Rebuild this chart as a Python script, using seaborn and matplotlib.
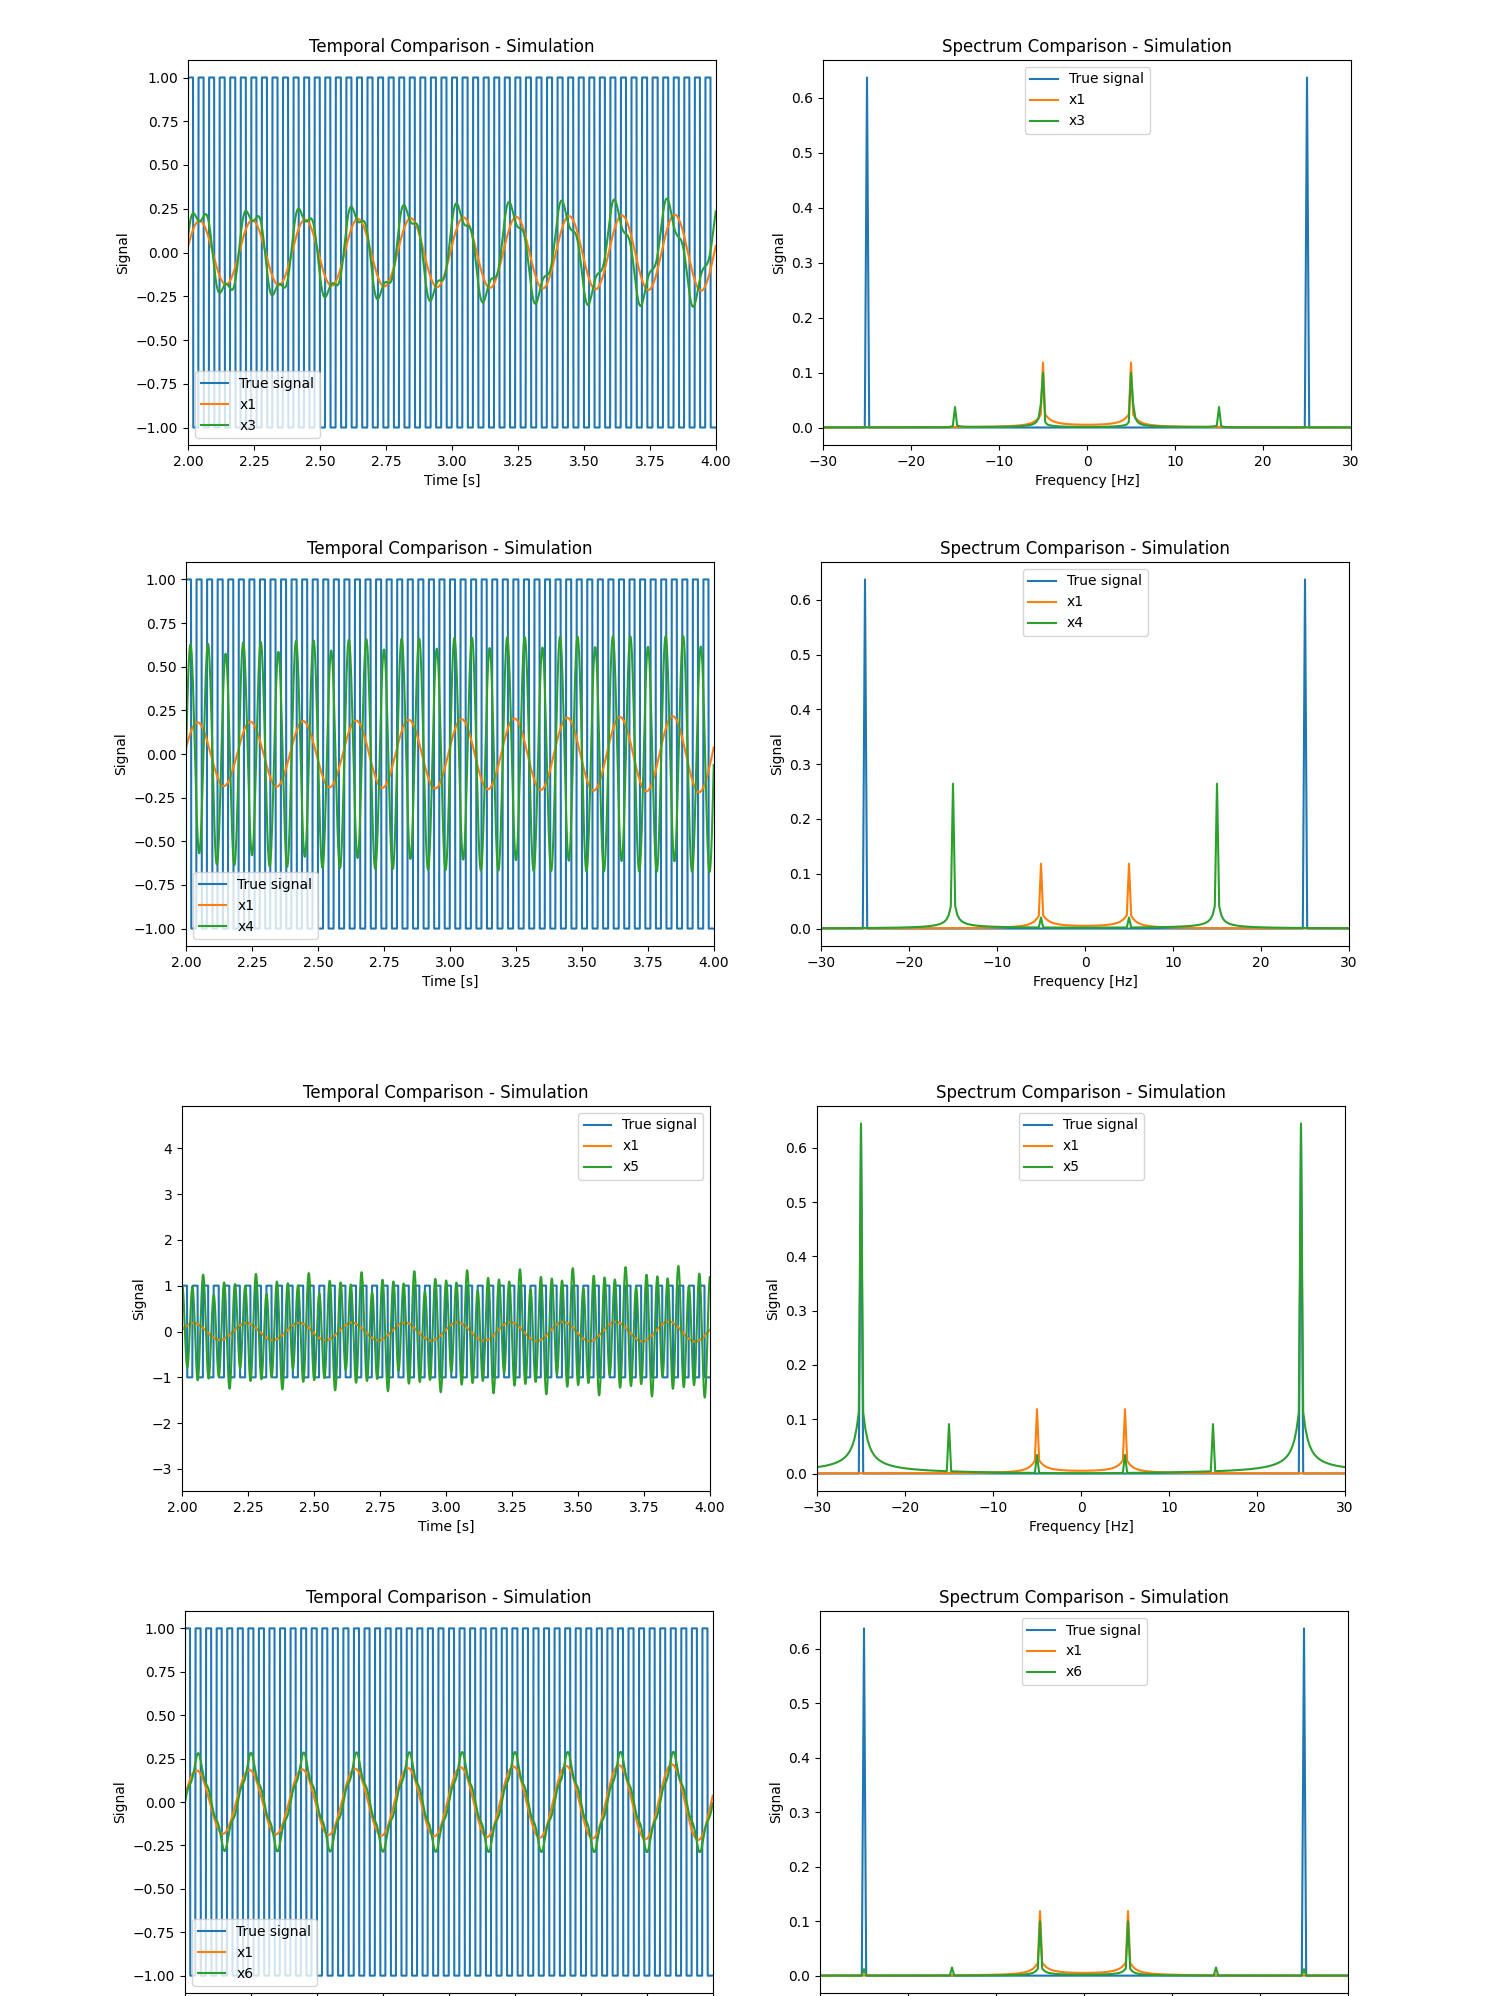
import numpy as np
import matplotlib
matplotlib.use("Agg")
import matplotlib.pyplot as plt
import seaborn as sns

# sampling of the simulation
fs = 1000.0
duration = 4.0
true_freq = 25.0
true_amp = 1.0

# signal components:
# frequency [Hz], amplitude, phase [rad], growth [1/s], start transient (relative), transient tau [s]
x1_freq = [5.0]
x1_amp = [0.18]
x1_phase = [0.2]
x1_growth = [0.1]
x1_trans = [4.8]
x1_tau = [0.3]

x3_freq = [5.06, 15.0]
x3_amp = [0.255, 0.065]
x3_phase = [-0.554, 0.6]
x3_growth = [0.0, 0.0]
x3_trans = [-1.0, 0.8]
x3_tau = [0.6, 0.8]

x4_freq = [15.0, 5.0]
x4_amp = [0.66, 0.04]
x4_phase = [0.0, 0.0]
x4_growth = [0.0, 0.0]
x4_trans = [-1.0, 0.0]
x4_tau = [0.8, 1.0]

x5_freq = [25.0, 15.0, 5.0]
x5_amp = [1.0, 0.19, 0.07]
x5_phase = [1.5708, 0.0, 0.0]
x5_growth = [0.1, 0.0, 0.0]
x5_trans = [3.8, 0.0, 0.0]
x5_tau = [0.35, 1.0, 1.0]

x6_freq = [5.0, 15.0, 25.0]
x6_amp = [0.235, 0.03, 0.024]
x6_phase = [0.0, 3.1416, 0.0]
x6_growth = [0.0, 0.0, 0.0]
x6_trans = [-1.0, 0.0, 0.0]
x6_tau = [0.6, 1.0, 1.0]

compare_names = ["x3", "x4", "x5", "x6"]

t = np.arange(int(fs * duration)) / fs


def build(freq, amp, phase, growth, trans, tau):
    out = np.zeros_like(t)
    for f, a, p, g, k, tk in zip(freq, amp, phase, growth, trans, tau):
        env = a * np.exp(g * (t - 2.0)) * (1.0 + k * np.exp(-t / tk))
        out += env * np.sin(2 * np.pi * f * t + p)
    return out


period = int(round(fs / true_freq))
true_sig = np.where(np.arange(len(t)) % period < period // 2, true_amp, -true_amp)
x1 = build(x1_freq, x1_amp, x1_phase, x1_growth, x1_trans, x1_tau)
others = {
    "x3": build(x3_freq, x3_amp, x3_phase, x3_growth, x3_trans, x3_tau),
    "x4": build(x4_freq, x4_amp, x4_phase, x4_growth, x4_trans, x4_tau),
    "x5": build(x5_freq, x5_amp, x5_phase, x5_growth, x5_trans, x5_tau),
    "x6": build(x6_freq, x6_amp, x6_phase, x6_growth, x6_trans, x6_tau),
}

freqs = np.fft.fftshift(np.fft.fftfreq(len(t), 1 / fs))


def spectrum(x):
    return np.abs(np.fft.fftshift(np.fft.fft(x))) / len(x)


# layout in pixels (each row was its own figure in the original)
W, H = 1500, 1996
row_left = [188, 186, 182, 185]
row_top = [60, 562, 1106, 1611]
row_height = [385, 384, 385, 382]
ax_width = 528
col_offset = 635
time_legend_loc = ["lower left", "lower left", "upper right", "lower left"]

fig = plt.figure(figsize=(W / 100, H / 100), dpi=100)

for i, name in enumerate(compare_names):
    bottom = 1 - (row_top[i] + row_height[i]) / H
    ax_t = fig.add_axes([row_left[i] / W, bottom, ax_width / W, row_height[i] / H])
    ax_f = fig.add_axes([(row_left[i] + col_offset) / W, bottom, ax_width / W, row_height[i] / H])
    xk = others[name]
    last_row = i == len(compare_names) - 1

    sns.lineplot(x=t, y=true_sig, ax=ax_t, color="C0", label="True signal", sort=False, estimator=None)
    sns.lineplot(x=t, y=x1, ax=ax_t, color="C1", label="x1", sort=False, estimator=None)
    sns.lineplot(x=t, y=xk, ax=ax_t, color="C2", label=name, sort=False, estimator=None)
    ax_t.set_xlim(2, 4)
    if name == "x5":
        ax_t.set_ylim(-3.48, 4.92)
    ax_t.set_title("Temporal Comparison - Simulation")
    ax_t.set_ylabel("Signal")
    ax_t.legend(loc=time_legend_loc[i])

    sns.lineplot(x=freqs, y=spectrum(true_sig), ax=ax_f, color="C0", label="True signal", sort=False, estimator=None)
    sns.lineplot(x=freqs, y=spectrum(x1), ax=ax_f, color="C1", label="x1", sort=False, estimator=None)
    sns.lineplot(x=freqs, y=spectrum(xk), ax=ax_f, color="C2", label=name, sort=False, estimator=None)
    ax_f.set_xlim(-30, 30)
    ax_f.set_title("Spectrum Comparison - Simulation")
    ax_f.set_ylabel("Signal")
    ax_f.legend(loc="upper center")

    # the bottom row is cut at the image edge in the reference, so its x labels are not shown
    if last_row:
        ax_t.set_xlabel("")
        ax_f.set_xlabel("")
        ax_t.tick_params(axis="x", labelbottom=False)
        ax_f.tick_params(axis="x", labelbottom=False)
    else:
        ax_t.set_xlabel("Time [s]")
        ax_f.set_xlabel("Frequency [Hz]")

fig.savefig("out.png", dpi=100)
